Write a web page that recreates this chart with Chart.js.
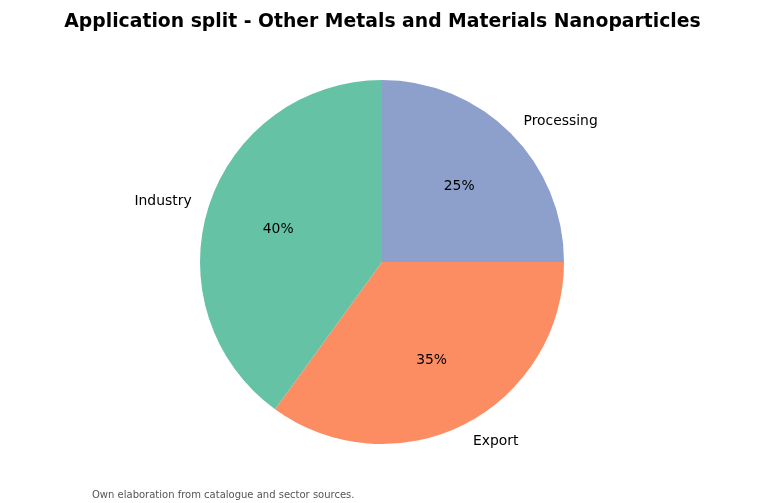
<!DOCTYPE html>
<html>
<head>
<meta charset="utf-8">
<script src="https://cdn.jsdelivr.net/npm/chart.js@4"></script>
<style>
    html, body { margin: 0; padding: 0; background: #ffffff; }
    #wrap { width: 765px; height: 503px; position: relative; }
</style>
</head>
<body>
<div id="wrap"><canvas id="pieChart" width="765" height="503"></canvas></div>
<script>
// Slices in clockwise order from 12 o'clock
const labels = ['Processing', 'Export', 'Industry'];
const shares = [25, 35, 40];
const colors = ['#8da0cb', '#fc8d62', '#66c2a5'];

const chartTitle = 'Application split - Other Metals and Materials Nanoparticles';
const footnote = 'Own elaboration from catalogue and sector sources.';

// Draws slice names, percentages, title and footnote
const pieText = {
    id: 'pieText',
    afterDraw(chart) {
        const ctx = chart.ctx;
        const arcs = chart.getDatasetMeta(0).data;
        const total = shares.reduce((a, b) => a + b, 0);
        ctx.save();
        ctx.fillStyle = '#000000';
        ctx.textBaseline = 'middle';
        arcs.forEach((arc, i) => {
            const mid = (arc.startAngle + arc.endAngle) / 2;
            const r = arc.outerRadius;
            const cx = Math.cos(mid), cy = Math.sin(mid);

            ctx.font = '13.9px "DejaVu Sans"';
            ctx.textAlign = cx > 0 ? 'left' : 'right';
            ctx.fillText(labels[i], arc.x + cx * r * 1.1, arc.y + cy * r * 1.1 + 1);

            ctx.textAlign = 'center';
            const pct = Math.round(shares[i] / total * 100) + '%';
            ctx.fillText(pct, arc.x + cx * r * 0.6, arc.y + cy * r * 0.6 + 1.5);
        });

        ctx.font = 'bold 18.8px "DejaVu Sans"';
        ctx.textAlign = 'center';
        ctx.fillText(chartTitle, 382.5, 22);

        ctx.font = '10px "DejaVu Sans"';
        ctx.fillStyle = '#555555';
        ctx.textAlign = 'left';
        ctx.fillText(footnote, 92, 495);
        ctx.restore();
    }
};

const ctxPie = document.getElementById('pieChart').getContext('2d');
new Chart(ctxPie, {
    type: 'pie',
    data: {
        labels: labels,
        datasets: [{
            data: shares,
            backgroundColor: colors,
            borderWidth: 0
        }]
    },
    options: {
        responsive: false,
        animation: false,
        layout: {
            padding: { top: 80, bottom: 59, left: 200, right: 201 }
        },
        plugins: {
            legend: { display: false },
            tooltip: { enabled: false },
            title: { display: false }
        }
    },
    plugins: [pieText]
});
</script>
</body>
</html>
